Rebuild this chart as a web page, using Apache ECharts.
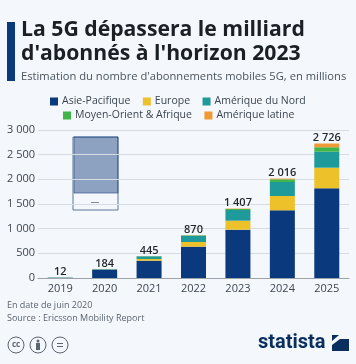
<!DOCTYPE html>
<html lang="fr">
<head>
    <meta charset="UTF-8">
    <title>5G</title>
    <script src="https://cdn.jsdelivr.net/npm/echarts@6/dist/echarts.min.js"></script>
    <style>
        html, body { margin: 0; padding: 0; background: #f4f7fb; }
        #main { width: 356px; height: 364px; }
    </style>
</head>
<body>
<div id="main"></div>
<script>
    var years = ['2019', '2020', '2021', '2022', '2023', '2024', '2025'];
    var totals = [12, 184, 445, 870, 1407, 2016, 2726];
    var asiePacifique = [5, 170, 351, 635, 980, 1372, 1818];
    var europe = [2, 4, 34, 95, 182, 290, 418];
    var ameriqueNord = [4, 8, 54, 128, 216, 284, 324];
    var moyenOrient = [1, 1, 4, 8, 20, 54, 90];
    var ameriqueLatine = [0, 1, 2, 4, 9, 16, 76];

    var font = '"Open Sans"';
    var grey = '#3c4650';

    function spaced(n) {
        return String(n).replace(/\B(?=(\d{3})+$)/g, ' ');
    }

    function makeSeries(name, values, color) {
        return { name: name, type: 'bar', stack: 'a', barWidth: 25, data: values, itemStyle: { color: color } };
    }

    var series = [
        makeSeries('Asie-Pacifique', asiePacifique, '#0a3a7d'),
        makeSeries('Europe', europe, '#ecc12a'),
        makeSeries('Amérique du Nord', ameriqueNord, '#1f9a9a'),
        makeSeries('Moyen-Orient & Afrique', moyenOrient, '#3fb54a'),
        makeSeries('Amérique latine', ameriqueLatine, '#ef9a35')
    ];
    series[4].label = {
        show: true,
        position: 'top',
        distance: 0,
        fontFamily: font,
        fontSize: 11,
        fontWeight: 600,
        color: '#1f262c',
        formatter: function (p) { return spaced(totals[p.dataIndex]); }
    };

    var legendBase = {
        icon: 'rect',
        itemWidth: 8,
        itemHeight: 8,
        itemGap: 12.5,
        padding: 0,
        textStyle: { fontFamily: font, fontSize: 10.5, color: grey, padding: [0, 0, 0, -1] }
    };

    var myChart = echarts.init(document.getElementById('main'));
    myChart.setOption({
        backgroundColor: '#f4f7fb',
        animation: false,
        legend: [
            Object.assign({}, legendBase, { left: 50, top: 96, data: ['Asie-Pacifique', 'Europe', 'Amérique du Nord'] }),
            Object.assign({}, legendBase, { left: 63, top: 110, data: ['Moyen-Orient & Afrique', 'Amérique latine'] })
        ],
        grid: { left: 38, right: 7, top: 130, height: 148 },
        xAxis: {
            type: 'category',
            data: years,
            axisTick: { show: false },
            axisLine: { lineStyle: { color: '#9aa3ac', width: 1 } },
            axisLabel: { fontFamily: font, fontSize: 11, color: grey, margin: 5 }
        },
        yAxis: {
            type: 'value',
            min: 0,
            max: 3000,
            interval: 500,
            axisLabel: { fontFamily: font, fontSize: 11, color: grey, margin: 3, formatter: spaced },
            splitLine: { lineStyle: { color: '#d5dce4', width: 1 } }
        },
        series: series,
        graphic: [
            { type: 'rect', shape: { x: 7, y: 22, width: 8, height: 59 }, style: { fill: '#0a3a7d' } },
            { type: 'text', x: 21, y: 19, style: { text: 'La 5G dépassera le milliard', font: 'bold 21.2px ' + font, fill: '#1a2026' } },
            { type: 'text', x: 21, y: 43, style: { text: "d'abonnés à l'horizon 2023", font: 'bold 21.2px ' + font, fill: '#1a2026' } },
            { type: 'text', x: 21, y: 71, style: { text: "Estimation du nombre d'abonnements mobiles 5G, en millions", font: '11.2px ' + font, fill: '#4a545e' } },
            // boite translucide au dessus de 2020
            { type: 'rect', shape: { x: 73, y: 137, width: 45, height: 73 }, style: { fill: 'none', stroke: '#5f7798', lineWidth: 1 } },
            { type: 'rect', shape: { x: 74, y: 137, width: 44, height: 56 }, style: { fill: 'rgba(30,70,130,0.48)', stroke: 'rgba(30,70,130,0.6)', lineWidth: 1 } },
            { type: 'rect', shape: { x: 91, y: 202, width: 8, height: 1 }, style: { fill: '#7d8b9c' } },
            { type: 'text', x: 7, y: 301, style: { text: 'En date de juin 2020', font: '9px ' + font, fill: '#5b6570' } },
            { type: 'text', x: 7, y: 314, style: { text: 'Source : Ericsson Mobility Report', font: '9px ' + font, fill: '#5b6570' } },
            { type: 'circle', shape: { cx: 16, cy: 345, r: 8 }, style: { fill: 'none', stroke: '#5b6570', lineWidth: 1 } },
            { type: 'text', x: 16, y: 345, style: { text: 'cc', font: 'bold 8px ' + font, fill: '#5b6570', align: 'center', verticalAlign: 'middle' } },
            { type: 'circle', shape: { cx: 38, cy: 345, r: 8 }, style: { fill: 'none', stroke: '#5b6570', lineWidth: 1 } },
            { type: 'circle', shape: { cx: 38, cy: 341, r: 1.5 }, style: { fill: '#5b6570' } },
            { type: 'rect', shape: { x: 36, y: 343, width: 4, height: 7 }, style: { fill: '#5b6570' } },
            { type: 'circle', shape: { cx: 60, cy: 345, r: 8 }, style: { fill: 'none', stroke: '#5b6570', lineWidth: 1 } },
            { type: 'rect', shape: { x: 57, y: 343, width: 6, height: 1 }, style: { fill: '#5b6570' } },
            { type: 'rect', shape: { x: 57, y: 346, width: 6, height: 1 }, style: { fill: '#5b6570' } },
            { type: 'text', x: 258, y: 333, style: { text: 'statista', font: 'bold 20px "Roboto"', fill: '#0a2f5f' } },
            { type: 'rect', shape: { x: 332, y: 335, width: 17, height: 16 }, style: { fill: '#0a2f5f' } },
            { type: 'polygon', shape: { points: [[332, 345], [340, 339], [349, 339], [349, 335], [339, 335], [332, 341]] }, style: { fill: '#f4f7fb' } }
        ]
    });
</script>
</body>
</html>
